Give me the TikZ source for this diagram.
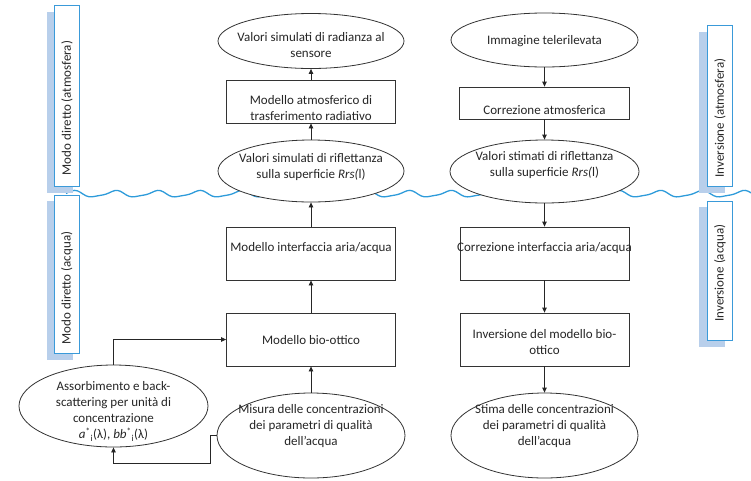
\documentclass[tikz,border=0pt]{standalone}
\usepackage{fontspec}
\setmainfont{Carlito}
\usetikzlibrary{arrows.meta,shapes.geometric}
\definecolor{sideblue}{HTML}{3A9AD9}
\definecolor{shadeblue}{HTML}{B8CFEB}
\definecolor{waveblue}{HTML}{2E9BDA}
\begin{document}
\begin{tikzpicture}[x=1pt,y=-1pt,
  every node/.style={font=\fontsize{13}{16}\selectfont, text=black!85},
  txt/.style={align=center, inner sep=0pt},
  box/.style={draw=black!80, line width=0.8pt, fill=white, rectangle, inner sep=0pt},
  oval/.style={draw=black!80, line width=0.8pt, fill=white, ellipse, inner sep=0pt},
  arr/.style={draw=black!85, line width=0.8pt, -{Triangle[length=5pt,width=4.5pt]}},
  side/.style={draw=sideblue, line width=1pt, fill=white, rectangle, inner sep=0pt, minimum width=25pt},
  shade/.style={fill=shadeblue, draw=none, rectangle, inner sep=0pt, minimum width=26pt}
]
\useasboundingbox (0,0) rectangle (751,480);

% water surface line
\draw[waveblue, line width=1.3pt] plot[domain=66:751, samples=240, smooth]
  (\x, {194+3*sin(\x*8.6)+0.8*sin(\x*17.2+40)});

% side labels
\node[shade, minimum height=181pt] (m1s) at (60,102.5) {};
\node[side, minimum height=181pt] (m1) at (66.5,95.5) {};
\node[rotate=90, inner sep=0pt] (m1t) at (67,108) {Modo diretto (atmosfera)};
\node[shade, minimum height=159pt] (m2s) at (60,280.5) {};
\node[side, minimum height=158pt] (m2) at (66.5,274) {};
\node[rotate=90, inner sep=0pt] (m2t) at (67,288) {Modo diretto (acqua)};
\node[shade, minimum height=161pt] (m3s) at (712,112.5) {};
\node[side, minimum height=161pt] (m3) at (719.5,105.5) {};
\node[rotate=90, inner sep=0pt] (m3t) at (720,118) {Inversione (atmosfera)};
\node[shade, minimum height=140pt] (m4s) at (712,277) {};
\node[side, minimum height=139pt] (m4) at (719.5,270.5) {};
\node[rotate=90, inner sep=0pt] (m4t) at (720,273) {Inversione (acqua)};

% left column
\node[oval, minimum width=186pt, minimum height=55pt,
  label={[txt, yshift=-4pt]center:{Valori simulati di radianza al\\sensore}}] (e1) at (311,41) {};
\node[box, minimum width=169pt, minimum height=43pt,
  label={[txt, yshift=-7pt]center:{Modello atmosferico di\\trasferimento radiativo}}] (r1) at (311,101.5) {};
\node[oval, minimum width=186pt, minimum height=62pt,
  label={[txt, yshift=4pt]center:{Valori simulati di riflettanza\\sulla superficie \textit{Rrs(}l)}}] (e2) at (311,171) {};
\node[box, minimum width=169pt, minimum height=53pt,
  label={[txt, yshift=5.5pt]center:{Modello interfaccia aria/acqua}}] (r2) at (311,253.5) {};
\node[box, minimum width=169pt, minimum height=53pt,
  label={[txt, yshift=-1pt]center:{Modello bio-ottico}}] (r3) at (311,339.5) {};
\node[oval, minimum width=188pt, minimum height=85pt,
  label={[txt, yshift=9.5pt]center:{Misura delle concentrazioni\\dei parametri di qualità\\dell’acqua}}] (e3) at (311,435.5) {};

% right column
\node[oval, minimum width=187pt, minimum height=54pt,
  label={[txt, yshift=-1pt]center:{Immagine telerilevata}}] (e4) at (544.5,40) {};
\node[box, minimum width=170pt, minimum height=32pt,
  label={[txt, yshift=-7pt]center:{Correzione atmosferica}}] (r4) at (544.5,103) {};
\node[oval, minimum width=189pt, minimum height=63pt,
  label={[txt, yshift=6pt]center:{Valori stimati di riflettanza\\sulla superficie \textit{Rrs(}l)}}] (e5) at (544.5,171.5) {};
\node[box, minimum width=169pt, minimum height=53pt,
  label={[txt, yshift=5.5pt]center:{Correzione interfaccia aria/acqua}}] (r5) at (544.5,253.5) {};
\node[box, minimum width=169pt, minimum height=53pt,
  label={[txt, yshift=-3pt]center:{Inversione del modello bio-\\ottico}}] (r6) at (544.5,339.5) {};
\node[oval, minimum width=187pt, minimum height=85pt,
  label={[txt, yshift=9.5pt]center:{Stima delle concentrazioni\\dei parametri di qualità\\dell’acqua}}] (e6) at (544.5,435.5) {};

% bottom-left ellipse
\node[oval, minimum width=189pt, minimum height=82pt,
  label={[txt, yshift=-5.5pt]center:{Assorbimento e back-\\scattering per unità di\\concentrazione\\\textit{a}\textsuperscript{*}\textsubscript{i}(λ), \textit{bb}\textsuperscript{*}\textsubscript{i}(λ)}}] (e7) at (113.5,406) {};

% connectors left
\draw[arr] (r1.north) -- (e1.south);
\draw[arr] (e2.north) -- (r1.south);
\draw[arr] (r2.north) -- (e2.south);
\draw[arr] (r3.north) -- (r2.south);
\draw[arr] (e3.north) -- (r3.south);
% connectors right
\draw[arr] (e4.south) -- (r4.north);
\draw[arr] (r4.south) -- (e5.north);
\draw[arr] (e5.south) -- (r5.north);
\draw[arr] (r5.south) -- (r6.north);
\draw[arr] (r6.south) -- (e6.north);
% feedback connectors
\draw[arr] (e7.north) |- (r3.west);
\draw[arr] (e3.west) -- ++(-6,0) -- ++(0,28) -| (e7.south);
\end{tikzpicture}
\end{document}
